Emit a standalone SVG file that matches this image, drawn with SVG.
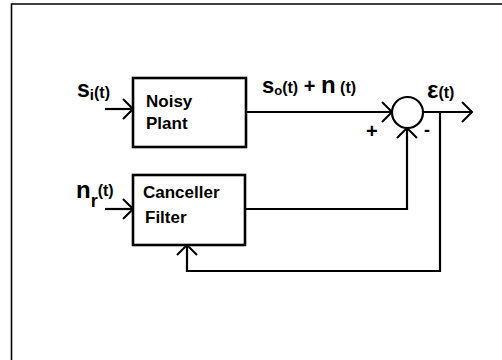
<svg xmlns="http://www.w3.org/2000/svg" width="502" height="360" viewBox="0 0 502 360">
<defs>
<style>
.ln{fill:none;stroke:#000;stroke-width:2.2;stroke-linejoin:miter;stroke-linecap:butt}
.bx{fill:#fff;stroke:#000;stroke-width:2.6}
.t{font-family:"Liberation Sans",Arial,sans-serif;font-weight:bold;fill:#000}
</style>
<marker id="ah" viewBox="0 0 12 22" refX="11" refY="11" markerWidth="12" markerHeight="22" markerUnits="userSpaceOnUse" orient="auto">
<path d="M1,1 L11,11 L1,21" fill="none" stroke="#000" stroke-width="2"/>
</marker>
</defs>
<rect width="502" height="360" fill="#fff"/>
<path d="M11.5,360 V4 H502" fill="none" stroke="#000" stroke-width="1.6"/>

<g id="connectors">
<path class="ln" d="M105,109 H133" marker-end="url(#ah)"/>
<path class="ln" d="M105,209 H133" marker-end="url(#ah)"/>
<path class="ln" d="M246,112 H392" marker-end="url(#ah)"/>
<path class="ln" d="M245,209 H407 V128" marker-end="url(#ah)"/>
<path class="ln" d="M423,112 H472" marker-end="url(#ah)"/>
<path class="ln" d="M440,112 V271 H187 V245" marker-end="url(#ah)"/>
</g>

<g id="noisy-plant">
<rect class="bx" x="133" y="78" width="113" height="69"/>
<text class="t" x="146" y="107" font-size="17">Noisy</text>
<text class="t" x="146" y="129" font-size="17">Plant</text>
</g>

<g id="canceller-filter">
<rect class="bx" x="133" y="175" width="112" height="70"/>
<text class="t" x="143" y="198" font-size="17">Canceller</text>
<text class="t" x="145" y="223" font-size="17">Filter</text>
</g>

<g id="summer">
<circle cx="407.5" cy="112.5" r="15.5" fill="none" stroke="#000" stroke-width="2.2"/>
<text class="t" x="366" y="138" font-size="20">+</text>
<text class="t" x="424" y="136" font-size="18">-</text>
</g>

<g id="labels">
<text class="t" x="77" y="97"><tspan font-size="23">s</tspan><tspan font-size="15" dy="3">i</tspan><tspan font-size="16" dy="-2">(t)</tspan></text>
<text class="t" x="76" y="198"><tspan font-size="24">n</tspan><tspan font-size="18" dy="9">r</tspan><tspan font-size="16" dy="-11">(t)</tspan></text>
<text class="t" x="262" y="93"><tspan font-size="22">s</tspan><tspan font-size="13" dy="2">o</tspan><tspan font-size="16" dy="-2">(t)</tspan><tspan font-size="20"> + </tspan><tspan font-size="24">n</tspan><tspan font-size="16"> (t)</tspan></text>
<text class="t" x="427" y="98"><tspan font-size="24">ε</tspan><tspan font-size="16">(t)</tspan></text>
</g>
</svg>
